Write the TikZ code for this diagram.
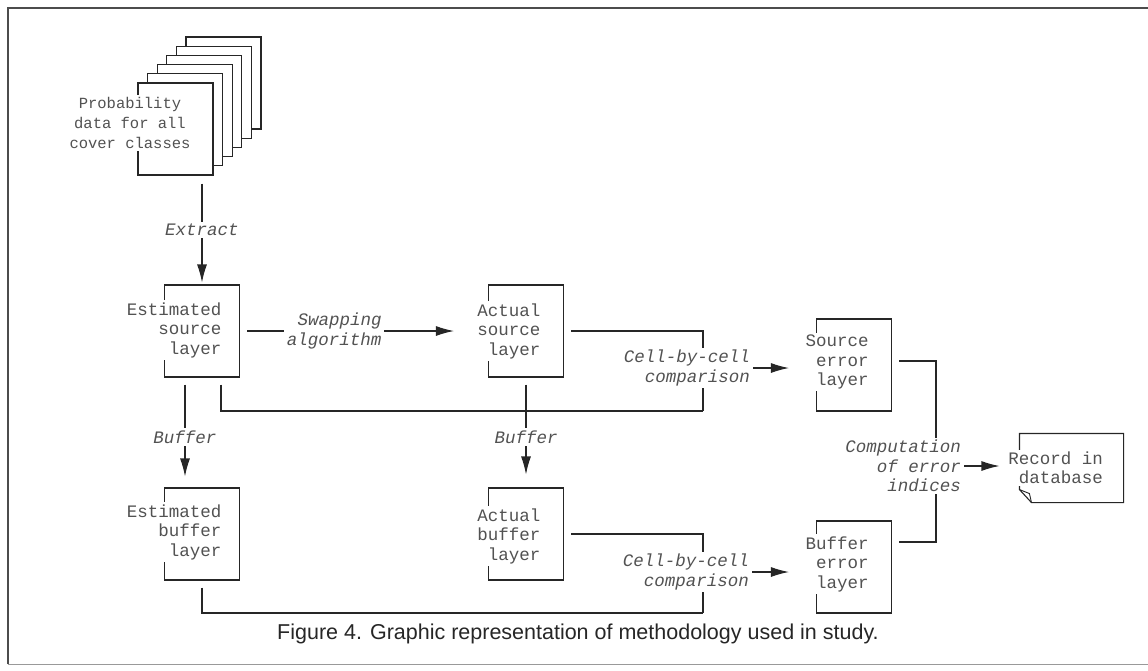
\documentclass[tikz,border=0pt]{standalone}
\usepackage{fontspec}
\setmainfont{Liberation Sans}
\newfontfamily\monof{Liberation Mono}
\usetikzlibrary{arrows.meta,calc}
\begin{document}
\begin{tikzpicture}[x=1pt,y=-1pt,
  line width=1.1pt, draw=black!85,
  layerbox/.style={draw=black!85, minimum width=75pt, minimum height=92pt, inner sep=0pt},
  pagebox/.style={draw=black!85, fill=white, minimum width=75pt, minimum height=92pt, inner sep=0pt},
  ltext/.style={fill=white, align=right, font=\monof\fontsize{17.5}{19.5}\selectfont, text=black!68, inner sep=2pt, anchor=east},
  lbl/.style={fill=white, align=right, font=\monof\itshape\fontsize{17.5}{19.5}\selectfont, text=black!68, inner sep=2.5pt},
  arr/.style={-{Latex[length=18pt,width=10pt]}},
  frame/.style={draw=black!70, line width=1.3pt}]
\useasboundingbox (0,0) rectangle (1148,670);
% frame
\draw[frame] (8,664) -- (8,8) -- (1148,8);
\draw[frame, draw=black!40, line width=0.8pt] (8,664) -- (1148,664);
% stack of pages
\foreach \k in {5,4,3,2,1,0} {
  \node[pagebox] (p\k) at ({175.5+9.6*\k},{129-9.2*\k}) {};
}
\node[ltext, anchor=center, align=center, font=\monof\fontsize{15.5}{20}\selectfont] (prob) at (130,123) {Probability\\data for all\\cover classes};
% layer boxes
\node[layerbox] (es) at (202,331) {};
\node[layerbox] (as) at (526,331) {};
\node[layerbox] (se) at (854,365) {};
\node[layerbox] (eb) at (202,534) {};
\node[layerbox] (ab) at (526,534) {};
\node[layerbox] (be) at (854,567) {};
\node[draw=none, minimum width=103pt, minimum height=68pt, inner sep=0pt] (rec) at (1071.5,468) {};
\draw (rec.north west) -- (rec.north east) -- (rec.south east) -- ([xshift=12pt]rec.south west) -- ([yshift=13pt]rec.south west) -- cycle;
\draw[line width=0.9pt] ([yshift=13pt]rec.south west) -- ([xshift=10pt,yshift=9pt]rec.south west) -- ([xshift=12pt]rec.south west);
% texts in boxes
\node[ltext] (est) at ([xshift=-16pt,yshift=1pt]es.east) {Estimated\\source\\layer};
\node[ltext] (ast) at ([xshift=-21pt]as.east) {Actual\\source\\layer};
\node[ltext] (set) at ([xshift=-21pt,yshift=3pt]se.east) {Source\\error\\layer};
\node[ltext] (ebt) at ([xshift=-16pt,yshift=2pt]eb.east) {Estimated\\buffer\\layer};
\node[ltext] (abt) at ([xshift=-21pt,yshift=-2pt]ab.east) {Actual\\buffer\\layer};
\node[ltext] (bet) at ([xshift=-21pt,yshift=3pt]be.east) {Buffer\\error\\layer};
\node[ltext] (rect) at ([xshift=-18pt]rec.east) {Record in\\database};
% Extract
\draw[arr, shorten <=8pt, shorten >=2pt] (p0.south -| es.north) -- node[lbl]{Extract} (es.north);
% Swapping
\draw[arr, shorten <=7pt, shorten >=34pt] (es.east) -- node[lbl, pos=0.38]{Swapping\\algorithm} (as.west);
% Buffer arrows
\draw[arr, shorten <=7pt, shorten >=11pt] ([xshift=-17pt]es.south) -- node[lbl, pos=0.54]{Buffer} ([xshift=-17pt]eb.north);
\draw[arr, shorten <=7pt, shorten >=13pt] (as.south) -- node[lbl, pos=0.54]{Buffer} (ab.north);
% comparison (source)
\coordinate (j1) at (703,411);
\draw ([xshift=7pt]as.east) -| (j1);
\draw ([xshift=19pt,yshift=-7pt]es.south) |- (j1);
\node[lbl, anchor=east] (cmp1) at (753,368) {Cell-by-cell\\comparison};
\draw[arr, shorten >=27pt] (cmp1.east) -- (cmp1.east -| se.west);
% comparison (buffer)
\coordinate (j2) at (703,613);
\draw ([xshift=7pt]ab.east) -| (j2);
\draw ([yshift=-7pt]eb.south) |- (j2);
\node[lbl, anchor=east] (cmp2) at (752,572) {Cell-by-cell\\comparison};
\draw[arr, shorten >=27pt] (cmp2.east) -- (cmp2.east -| be.west);
% computation of error indices
\coordinate (j3) at (936,466);
\draw ([xshift=7pt,yshift=4pt]se.east) -| (j3);
\draw ([xshift=7pt,yshift=25pt]be.east) -| (j3);
\node[lbl, anchor=east] (cmp3) at (964,466) {Computation\\of error\\indices};
\draw[arr, shorten >=20pt] (cmp3.east) -- (cmp3.east -| rec.west);
% caption
\node[font=\fontsize{21.5}{25}\selectfont, text=black!85] (cap) at (578,634) {Figure 4. Graphic representation of methodology used in study.};
\end{tikzpicture}
\end{document}
